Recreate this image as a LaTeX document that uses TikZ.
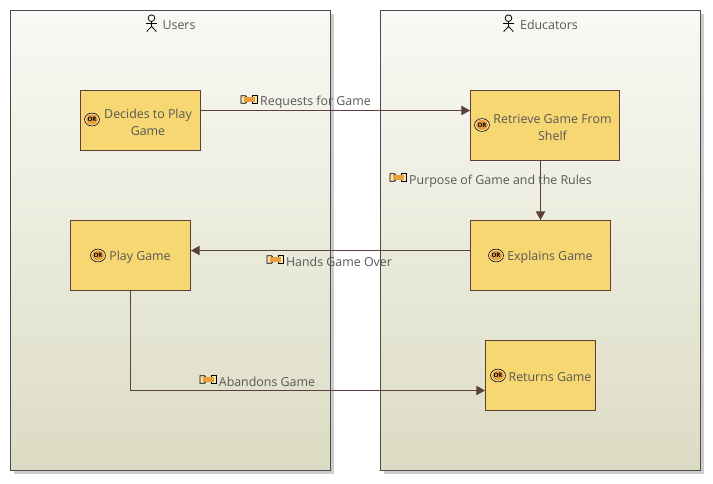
\documentclass[tikz,border=0pt]{standalone}
\usepackage{fontspec}
\setmainfont{Open Sans}
\usetikzlibrary{positioning,arrows.meta,calc}
\definecolor{taskfill}{RGB}{247,215,114}
\definecolor{taskline}{RGB}{90,64,56}
\definecolor{lanetop}{RGB}{249,249,245}
\definecolor{lanebot}{RGB}{220,220,196}
\definecolor{laneline}{RGB}{75,75,75}
\definecolor{lanegray}{RGB}{205,205,205}
\definecolor{labtext}{RGB}{88,88,88}
\definecolor{iconorange}{RGB}{232,160,60}
\definecolor{iconcream}{RGB}{255,230,175}
\newcommand{\taskname}[1]{\hspace*{14.25pt}\raisebox{-1pt}[\height][\depth]{#1}}
\newcommand{\tasklines}[1]{\hspace*{11.25pt}\raisebox{-2pt}[\height][\depth]{\begin{tabular}{@{}c@{}}#1\end{tabular}}}
\tikzset{
  lane/.style = {rectangle, draw=laneline, line width=.7pt, top color=lanetop,
                 bottom color=lanebot, minimum width=320*.75pt,
                 minimum height=460*.75pt, inner sep=0pt},
  laneshadow/.style = {rectangle, fill=lanegray, minimum width=320*.75pt,
                 minimum height=460*.75pt, inner sep=0pt},
  task/.style = {rectangle, draw=taskline, line width=.7pt, fill=taskfill,
                 text=labtext, font=\fontsize{9.3}{12.8}\selectfont,
                 inner sep=0pt, align=center},
  arr/.style  = {-{Triangle[length=6.5pt,width=7pt]}, draw=taskline, line width=.75pt},
  lab/.style  = {text=labtext, font=\fontsize{9.3}{11}\selectfont, inner sep=0pt},
  oricon/.pic = {
    \draw[line width=.45pt, fill=iconcream] (0,0) ellipse (5.6pt and 4.8pt);
    \fill[iconorange] (0,0) ellipse (4.6pt and 3.8pt);
    \node[text=black, inner sep=0pt, font=\fontsize{4.6}{4}\selectfont\bfseries] {OR};
  },
  flowicon/.pic = {
    \draw[line width=.7pt, fill=iconcream] (-6pt,-2.8pt) -- (-2.6pt,-2.8pt) -- (-1.6pt,-1.5pt)
      -- (-1.6pt,1.5pt) -- (-2.6pt,2.8pt) -- (-6pt,2.8pt) -- cycle;
    \draw[line width=.7pt, fill=iconcream] (2.4pt,-2.8pt) rectangle (6pt,2.8pt);
    \fill[iconorange] (-3.6pt,-1.8pt) rectangle (4.4pt,1.8pt);
  },
  actoricon/.pic = {
    \draw[line width=.6pt] (0,3.6pt) circle (2.5pt);
    \draw[line width=.6pt] (0,1.1pt) -- (0,-2.6pt) (-4pt,-.4pt) -- (4pt,-.4pt)
      (-3.6pt,-6.4pt) -- (0,-2.6pt) -- (3.6pt,-6.4pt);
  }
}
\begin{document}
\begin{tikzpicture}[x=.75pt,y=-.75pt]
  \useasboundingbox (0,0) rectangle (713,483);
  % lanes
  \node[laneshadow] at (173.5,243.5) {};
  \node[laneshadow] at (543.5,243.5) {};
  \node[lane] (users) at (170.5,240.5) {};
  \node[lane] (educators) at (540.5,240.5) {};
  \node[lab] (usershead) at (179,25) {Users};
  \node[lab] (educatorshead) at (549,25) {Educators};
  \pic at (151.5,23) {actoricon};
  \pic at (508.5,23) {actoricon};
  % tasks
  \node[task, minimum width=120*.75pt, minimum height=60*.75pt] (decides) at (140.5,120.5)
    {\tasklines{Decides to Play\\Game}};
  \node[task, minimum width=120*.75pt, minimum height=70*.75pt] (play) at (130.5,255.5)
    {\taskname{Play Game}};
  \node[task, minimum width=149*.75pt, minimum height=70*.75pt] (retrieve) at (545,125.5)
    {\tasklines{Retrieve Game From\\Shelf}};
  \node[task, minimum width=140*.75pt, minimum height=70*.75pt] (explains) at (540.5,255.5)
    {\taskname{Explains Game}};
  \node[task, minimum width=110*.75pt, minimum height=70*.75pt] (returns) at (540.5,375.5)
    {\taskname{Returns Game}};
  \pic at (92,119.5) {oricon};
  \pic at (98,255.5) {oricon};
  \pic at (482,125) {oricon};
  \pic at (496,255.5) {oricon};
  \pic at (498,375.5) {oricon};
  % flows
  \coordinate (reqline) at (0,110.5);
  \coordinate (handline) at (0,250.5);
  \coordinate (abanline) at (0,390.5);
  \draw[arr] (reqline -| decides.east) -- (reqline -| retrieve.west);
  \draw[arr] (explains.north |- retrieve.south) -- (explains.north);
  \draw[arr] (handline -| explains.west) -- (handline -| play.east);
  \draw[arr] (play.south) |- (abanline -| returns.west);
  % flow labels
  \node[lab] (reqlab) at (315.5,102.5) {Requests for Game};
  \node[lab] (purplab) at (500.5,181.5) {Purpose of Game and the Rules};
  \node[lab] (handlab) at (339,261.5) {Hands Game Over};
  \node[lab] (abanlab) at (267,381.5) {Abandons Game};
  \pic at (249,99.5) {flowicon};
  \pic at (398,177.5) {flowicon};
  \pic at (275,259.5) {flowicon};
  \pic at (208,379.5) {flowicon};
\end{tikzpicture}
\end{document}
